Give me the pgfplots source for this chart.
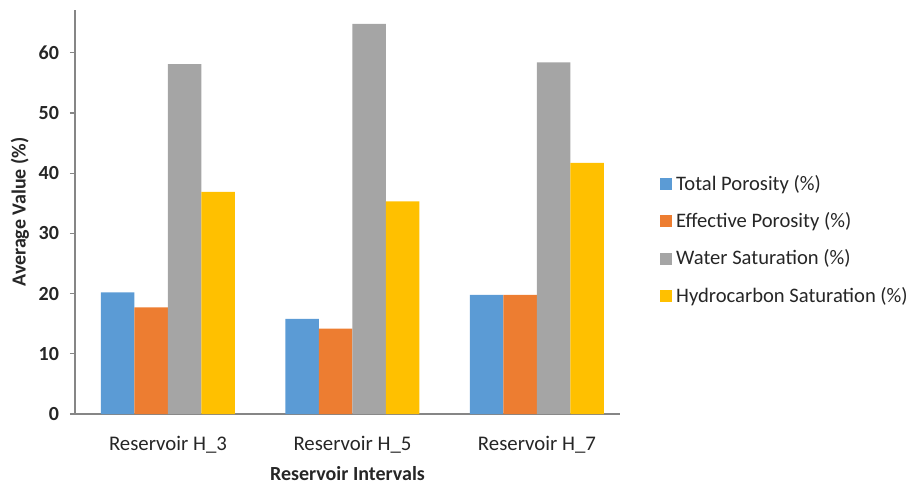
\documentclass[border=0pt]{standalone}
\usepackage{pgfplots}
\pgfplotsset{compat=1.18}
\usepackage{fontspec}
\setmainfont{Carlito}
\definecolor{cblue}{HTML}{5B9BD5}
\definecolor{corange}{HTML}{ED7D31}
\definecolor{cgray}{HTML}{A5A5A5}
\definecolor{cyellow}{HTML}{FFC000}
\definecolor{axgray}{HTML}{868686}
\begin{document}
\begin{tikzpicture}
\useasboundingbox (-37.5pt,-34.5pt) rectangle (418pt,207pt);
\begin{axis}[
  at={(0,0)}, anchor=south west,
  scale only axis, width=272.5pt, height=202pt,
  ybar=0pt, bar width=16.75pt,
  xmin=-0.504, xmax=2.45,
  ymin=0, ymax=67.1,
  xtick=data, xticklabels={Reservoir H\_3, Reservoir H\_5, Reservoir H\_7},
  ytick={0,10,...,60},
  axis x line*=bottom, axis y line*=left,
  axis line style={draw=axgray, line width=0.8pt, -},
  x axis line style={-}, y axis line style={-},
  major tick length=2.5pt,
  xtick style={draw=none},
  ytick style={draw=axgray, line width=0.6pt},
  tick align=outside,
  /pgf/number format/assume math mode=true,
  yticklabel style={font=\fontsize{10}{12}\selectfont\bfseries, color=black!85, xshift=-2pt},
  xticklabel style={font=\fontsize{10.4}{12}\selectfont, color=black!85, yshift=-5pt},
  ylabel={Average Value (\%)},
  xlabel={Reservoir Intervals},
  ylabel style={font=\fontsize{10}{12}\selectfont\bfseries, color=black!85, yshift=-2pt},
  xlabel style={font=\fontsize{10}{12}\selectfont\bfseries, color=black!85, yshift=0pt},
  legend style={at={(1.062,0.612)}, anchor=north west, draw=none, fill=none,
    font=\fontsize{10.3}{12}\selectfont, text=black!85, row sep=5.6pt,
    /tikz/every even column/.append style={column sep=0pt}},
  legend cell align=left,
  legend image code/.code={\fill[#1] (0pt,-3pt) rectangle (6pt,3pt);},
  clip=false,
]
\addplot[fill=cblue, draw=none] coordinates {(0,20.2) (1,15.8) (2,19.8)};
\addplot[fill=corange, draw=none] coordinates {(0,17.7) (1,14.2) (2,19.8)};
\addplot[fill=cgray, draw=none] coordinates {(0,58.1) (1,64.8) (2,58.4)};
\addplot[fill=cyellow, draw=none] coordinates {(0,36.9) (1,35.3) (2,41.7)};
\legend{Total Porosity (\%), Effective Porosity (\%), Water Saturation (\%), Hydrocarbon Saturation (\%)}
\end{axis}
\end{tikzpicture}
\end{document}
